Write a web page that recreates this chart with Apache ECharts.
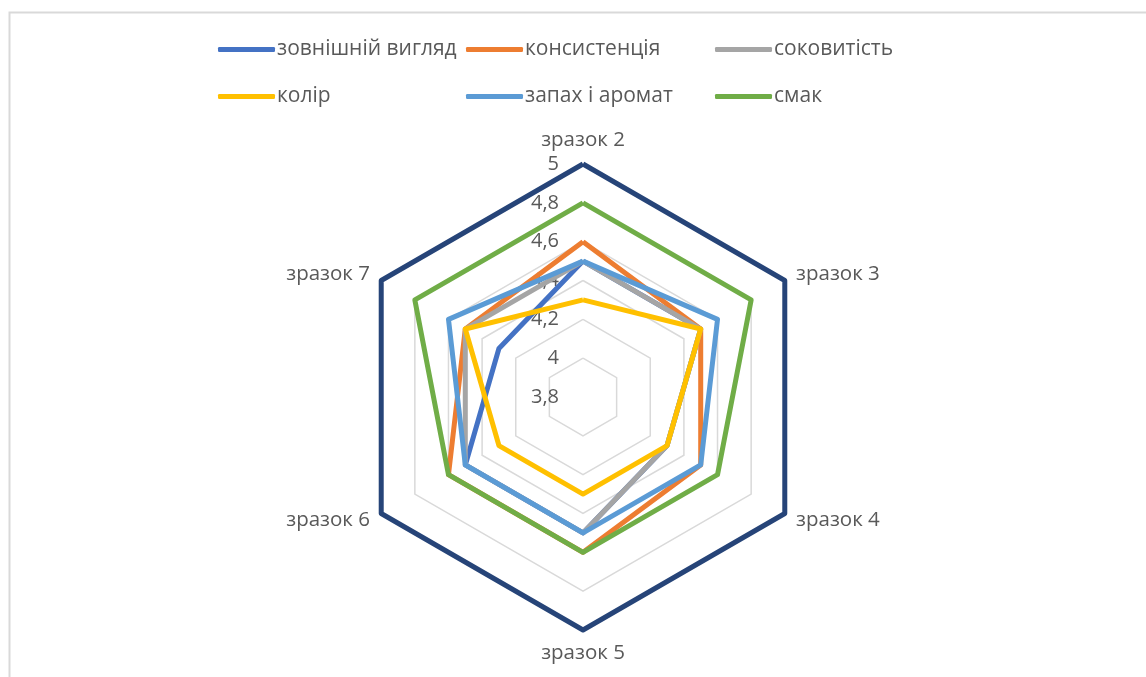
<!DOCTYPE html>
<html>
<head>
<meta charset="utf-8">
<script src="https://cdn.jsdelivr.net/npm/echarts@6/dist/echarts.min.js"></script>
<style>
  html, body { margin: 0; padding: 0; background: #fff; }
  #chart { width: 1146px; height: 677px; }
</style>
</head>
<body>
<div id="chart"></div>
<script>
const samples = ['зразок 2', 'зразок 3', 'зразок 4', 'зразок 5', 'зразок 6', 'зразок 7'];
const seriesNames = ['зовнішній вигляд', 'консистенція', 'соковитість', 'колір', 'запах і аромат', 'смак'];
const appearance = [4.5, 4.5, 4.3, 4.5, 4.5, 4.3];
const consistency = [4.6, 4.5, 4.5, 4.6, 4.6, 4.5];
const juiciness = [4.5, 4.5, 4.3, 4.5, 4.5, 4.5];
const colour = [4.3, 4.5, 4.3, 4.3, 4.3, 4.5];
const smell = [4.5, 4.6, 4.5, 4.5, 4.5, 4.6];
const taste = [4.8, 4.8, 4.6, 4.6, 4.6, 4.8];
const maxLine = [5, 5, 5, 5, 5, 5];
const axisMin = 3.8;
const axisMax = 5;

const colors = ['#4472C4', '#ED7D31', '#A5A5A5', '#FFC000', '#5B9BD5', '#70AD47'];
const values = [appearance, consistency, juiciness, colour, smell, taste];

// echarts puts radar indicators counter-clockwise, excel goes clockwise
const order = [0, 5, 4, 3, 2, 1];
const reorder = arr => order.map(i => arr[i]);

const font = '"Open Sans", "Noto Sans", sans-serif';
const textColor = '#595959';

const indicators = order.map((i, k) => {
    const ind = { name: samples[i], min: axisMin, max: axisMax };
    if (k === 0) {
        ind.axisLabel = { show: true };
    }
    return ind;
});

const radarData = values.map((v, i) => ({
    name: seriesNames[i],
    value: reorder(v),
    itemStyle: { color: colors[i] },
    lineStyle: { color: colors[i], width: 5 }
}));
radarData.push({
    name: 'max',
    value: reorder(maxLine),
    itemStyle: { color: '#264478' },
    lineStyle: { color: '#264478', width: 5 }
});

const colX = [218, 466, 715];
const rowY = [39, 86];
const legends = seriesNames.map((n, i) => ({
    data: [n],
    left: colX[i % 3],
    top: rowY[Math.floor(i / 3)],
    padding: 0,
    icon: 'roundRect',
    itemWidth: 57,
    itemHeight: 5,
    itemGap: 0,
    selectedMode: false,
    textStyle: { fontFamily: font, fontSize: 21, color: textColor, padding: [0, 0, 0, -3] }
}));

const chart = echarts.init(document.getElementById('chart'));
chart.setOption({
    animation: false,
    legend: legends,
    graphic: [{
        type: 'rect',
        left: 7,
        top: 10,
        shape: { width: 1200, height: 700 },
        style: { fill: 'none', stroke: '#D9D9D9', lineWidth: 2 }
    }],
    radar: {
        center: [583, 397],
        radius: 233,
        shape: 'polygon',
        splitNumber: 6,
        indicator: indicators,
        nameGap: 13,
        axisName: { fontFamily: font, fontSize: 20.5, color: textColor },
        axisLine: { show: false },
        axisTick: { show: false },
        axisLabel: {
            show: false,
            margin: 24,
            align: 'right',
            fontFamily: font,
            fontSize: 20,
            color: textColor,
            formatter: v => String(Math.round(v * 10) / 10).replace('.', ',')
        },
        splitLine: { lineStyle: { color: '#D9D9D9', width: 1.5 } },
        splitArea: { show: false }
    },
    series: [{
        type: 'radar',
        symbol: 'none',
        data: radarData
    }]
});
</script>
</body>
</html>
